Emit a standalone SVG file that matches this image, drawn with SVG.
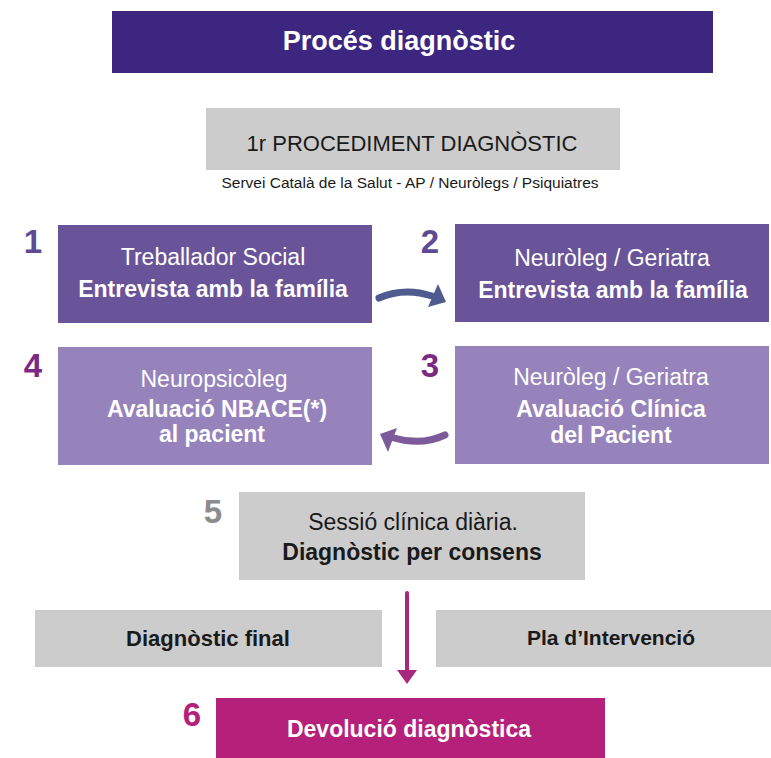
<svg xmlns="http://www.w3.org/2000/svg" width="771" height="758" viewBox="0 0 771 758">
<style>
text{font-family:"Liberation Sans",Arial,sans-serif;text-anchor:middle}
.w{fill:#ffffff}
.k{fill:#1a1a1a}
.b{font-weight:bold}
.r{font-weight:normal}
.t{font-size:23px}
.num{font-weight:bold;font-size:33px;text-anchor:middle}
.grey{fill:#cccccc}
.dark{fill:#6a5499}
.light{fill:#9783bb}
</style>
<rect width="771" height="758" fill="#ffffff"/>
<g id="title">
<rect x="112" y="11" width="601" height="62" fill="#3d2680"/>
<text x="399" y="50" class="w b" font-size="27">Procés diagnòstic</text>
</g>
<g id="procediment">
<rect x="206" y="108" width="414" height="62" class="grey"/>
<text x="412" y="151" class="k r" font-size="22">1r PROCEDIMENT DIAGNÒSTIC</text>
<text x="410" y="188" class="k r" font-size="15.5">Servei Català de la Salut - AP / Neuròlegs / Psiquiatres</text>
</g>
<g id="step1">
<text x="33" y="253" class="num" fill="#5e4b96">1</text>
<rect x="58" y="225" width="314" height="98" class="dark"/>
<text x="213" y="265" class="w r t">Treballador Social</text>
<text x="213" y="297" class="w b t">Entrevista amb la família</text>
</g>
<g id="step2">
<text x="430" y="253" class="num" fill="#5e4b96">2</text>
<rect x="455" y="224" width="314" height="98" class="dark"/>
<text x="612" y="266" class="w r t">Neuròleg / Geriatra</text>
<text x="613" y="298" class="w b t">Entrevista amb la família</text>
</g>
<g id="step4">
<text x="33" y="377" class="num" fill="#7b2a84">4</text>
<rect x="58" y="347" width="314" height="118" class="light"/>
<text x="214" y="387" class="w r t">Neuropsicòleg</text>
<text x="217" y="417" class="w b t">Avaluació NBACE(*)</text>
<text x="212" y="442" class="w b t">al pacient</text>
</g>
<g id="step3">
<text x="430" y="377" class="num" fill="#7b2a84">3</text>
<rect x="455" y="346" width="314" height="118" class="light"/>
<text x="611" y="385" class="w r t">Neuròleg / Geriatra</text>
<text x="611" y="417" class="w b t">Avaluació Clínica</text>
<text x="611" y="443" class="w b t">del Pacient</text>
</g>
<g id="step5">
<text x="213" y="523" class="num" fill="#8c8c8c">5</text>
<rect x="239" y="492" width="346" height="88" class="grey"/>
<text x="413" y="530" class="k r t">Sessió clínica diària.</text>
<text x="412" y="560" class="k b t">Diagnòstic per consens</text>
</g>
<g id="final">
<rect x="35" y="610" width="347" height="57" class="grey"/>
<text x="208" y="646" class="k b" font-size="22">Diagnòstic final</text>
</g>
<g id="pla">
<rect x="436" y="610" width="335" height="57" class="grey"/>
<text x="611" y="645" class="k b" font-size="21">Pla d’Intervenció</text>
</g>
<g id="step6">
<text x="192" y="726" class="num" fill="#b5207a">6</text>
<rect x="216" y="698" width="389" height="60" fill="#b5217a"/>
<text x="409" y="737" class="w b t">Devolució diagnòstica</text>
</g>
<g id="connectors">
<path d="M379 298 Q404 287 432 296" fill="none" stroke="#4f5b8f" stroke-width="7" stroke-linecap="round"/>
<polygon points="438,284 446,302 428,307" fill="#4f5b8f"/>
<path d="M445 435 Q422 446 394 438" fill="none" stroke="#7d5a9a" stroke-width="7" stroke-linecap="round"/>
<polygon points="380,434 397,428 388,452" fill="#7d5a9a"/>
<line x1="407" y1="593" x2="407" y2="672" stroke="#a8287f" stroke-width="4" stroke-linecap="round"/>
<polygon points="397,670 417,670 407,684" fill="#a8287f"/>
</g>
</svg>
